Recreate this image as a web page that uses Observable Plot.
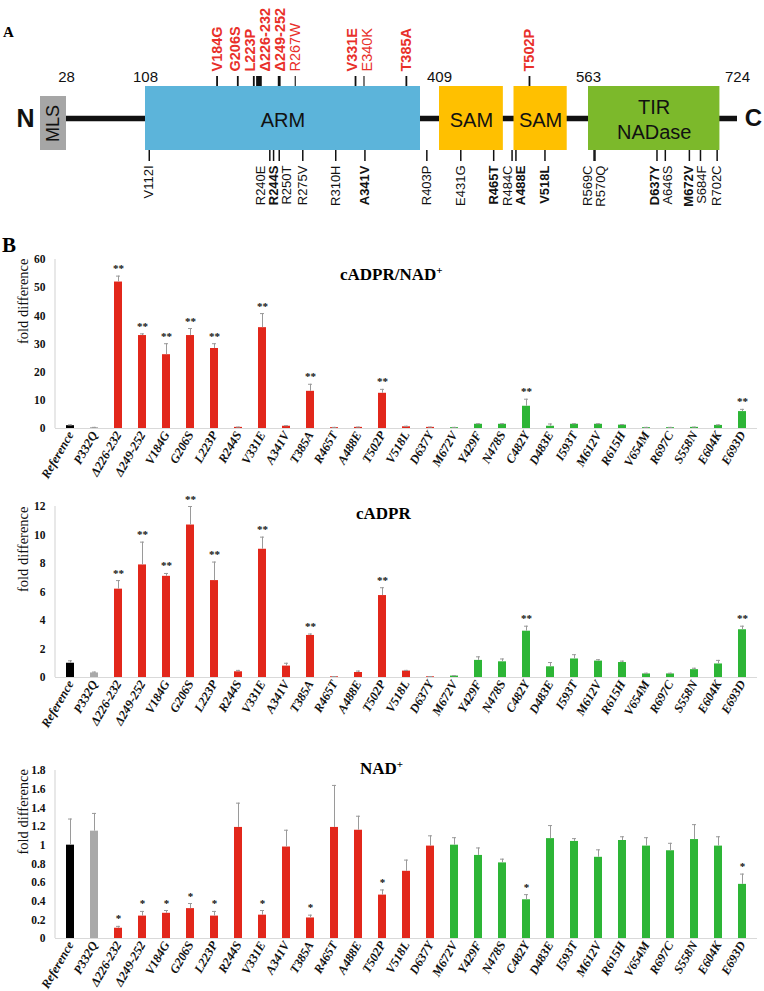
<!DOCTYPE html>
<html><head><meta charset="utf-8">
<script src="https://cdn.jsdelivr.net/npm/d3@7"></script>
<script src="https://cdn.jsdelivr.net/npm/@observablehq/plot@0.6"></script>
<style>
body{margin:0;background:#fff;}
#page{position:relative;width:764px;height:991px;overflow:hidden;background:#fff;}
.slot{position:absolute;left:0;}
.panel{position:absolute;font-family:"Liberation Serif";font-weight:bold;line-height:1;}
.title{position:absolute;font:bold 17px "Liberation Serif";line-height:17px;white-space:nowrap;color:#000;}
.title sup{font-size:11px;vertical-align:6px;line-height:0;}
</style></head><body><div id="page"></div>
<script>
// ---------- Panel A data (residue numbers) ----------
const domainNames  = ["MLS", "ARM", "SAM", "SAM", "TIR\nNADase"];
const domainStart  = [1, 108, 409, 486, 563];
const domainEnd    = [28, 400, 475, 541, 705];
const domainKinds  = ["mls", "arm", "sam", "sam", "tir"];
const backbone     = [28, 724];
const boundaryLabels = [28, 108, 409, 563, 724];

const topNames  = ["V184G","G206S","L223P","Δ226-232","Δ249-252","R267W","V331E","E340K","T385A","T502P"];
const topStart  = [184, 206, 223, 226, 249, 267, 331, 340, 385, 502];
const topEnd    = [184, 206, 223, 232, 252, 267, 331, 340, 385, 502];
const topTested = [true, true, true, true, true, false, true, false, true, true];

const botNames  = ["V112I","R240E","R244S","R250T","R275V","R310H","A341V","R403P","E431G","R465T","R484C","A488E","V518L","R569C","R570Q","D637Y","A646S","M672V","S684F","R702C"];
const botPos    = [112, 240, 244, 250, 275, 310, 341, 403, 431, 465, 484, 488, 518, 569, 570, 637, 646, 672, 684, 702];
const botTested = [false,false,true,false,false,false,true,false,false,true,false,true,true,false,false,true,false,true,false,false];

// ---------- Panel B data ----------
const categories = ["Reference","P332Q","Δ226-232","Δ249-252","V184G","G206S","L223P","R244S","V331E","A341V","T385A","R465T","A488E","T502P","V518L","D637Y","M672V","Y429F","N478S","C482Y","D483E","I593T","M612V","R615H","V654M","R697C","S558N","E604K","E693D"];
const groups = ["reference","control",
  "red","red","red","red","red","red","red","red","red","red","red","red","red","red",
  "green","green","green","green","green","green","green","green","green","green","green","green","green"];

const ratioValues = [1.0, 0.3, 52.0, 33.0, 26.2, 33.0, 28.4, 0.4, 35.8, 0.8, 13.2, 0.3, 0.4, 12.5, 0.6, 0.4, 0.3, 1.5, 1.5, 7.9, 0.8, 1.5, 1.5, 1.2, 0.3, 0.3, 0.4, 1.1, 6.0];
const ratioErrors = [0.3, 0.1, 2.1, 0.6, 3.9, 2.5, 1.7, 0.1, 5.0, 0.2, 2.5, 0.1, 0.1, 1.4, 0.2, 0.1, 0.1, 0.2, 0.2, 2.5, 0.8, 0.2, 0.2, 0.2, 0.1, 0.1, 0.1, 0.2, 0.8];
const ratioSig    = ["","","**","**","**","**","**","","**","","**","","","**","","","","","","**","","","","","","","","","**"];

const cadprValues = [1.0, 0.32, 6.2, 7.9, 7.1, 10.7, 6.8, 0.4, 9.0, 0.8, 2.95, 0.05, 0.35, 5.75, 0.45, 0.05, 0.1, 1.2, 1.1, 3.25, 0.75, 1.3, 1.15, 1.05, 0.25, 0.25, 0.55, 0.95, 3.35];
const cadprErrors = [0.17, 0.06, 0.6, 1.6, 0.2, 1.3, 1.3, 0.1, 0.85, 0.2, 0.1, 0.02, 0.1, 0.55, 0.05, 0.02, 0.03, 0.25, 0.2, 0.35, 0.3, 0.3, 0.1, 0.1, 0.05, 0.05, 0.1, 0.25, 0.25];
const cadprSig    = ["","","**","**","**","**","**","","**","","**","","","**","","","","","","**","","","","","","","","","**"];

const nadValues = [1.0, 1.15, 0.11, 0.24, 0.27, 0.32, 0.24, 1.19, 0.25, 0.98, 0.22, 1.19, 1.16, 0.465, 0.72, 0.99, 1.0, 0.89, 0.81, 0.415, 1.07, 1.04, 0.87, 1.05, 0.99, 0.94, 1.06, 0.99, 0.58];
const nadErrors = [0.28, 0.19, 0.02, 0.05, 0.03, 0.055, 0.05, 0.26, 0.05, 0.18, 0.03, 0.45, 0.15, 0.055, 0.12, 0.11, 0.08, 0.08, 0.04, 0.055, 0.14, 0.03, 0.08, 0.04, 0.09, 0.08, 0.16, 0.10, 0.11];
const nadSig    = ["","","*","*","*","*","*","","*","","*","","","*","","","","","","*","","","","","","","","","*"];

const ratioTicks = [0, 10, 20, 30, 40, 50, 60];
const cadprTicks = [0, 2, 4, 6, 8, 10, 12];
const nadTicks   = [0, 0.2, 0.4, 0.6, 0.8, 1, 1.2, 1.4, 1.6, 1.8];

// ---------- styles ----------
const groupColor = {reference: "#000000", control: "#a9a9a9", red: "#e2271b", green: "#2db536"};
const domainColor = {mls: "#a6a6a6", arm: "#5cb4da", sam: "#ffc000", tir: "#7cb92b"};
const mutRed = "#e8302a";
const page = document.getElementById("page");

function slot(top, node) {
  const d = document.createElement("div");
  d.className = "slot"; d.style.top = top + "px";
  d.appendChild(node); page.appendChild(d);
}
function html(cls, left, top, size, inner) {
  const d = document.createElement("div");
  d.className = cls; d.style.left = left + "px"; d.style.top = top + "px";
  if (size) d.style.fontSize = size + "px";
  d.innerHTML = inner; page.appendChild(d);
}

// ---------- Panel A ----------
const xA = {type: "linear", domain: [1, 28, 108, 400, 409, 563, 724], range: [40, 66, 145, 420, 439, 588, 737]};
const xAscale = Plot.scale({x: xA});
// vertical layout (pixels)
const L = {numBase: 81, topLabel: 71, topTick1: 76, boxTop: 86, mlsTop: 96, backbone: 118, boxBot: 150, botTick2: 161, botLabel: 165};

function spread(px, gap) {
  let cl = px.map(p => ({n: 1, sum: p}));
  let merged = true;
  while (merged) {
    merged = false;
    for (let k = 0; k < cl.length - 1; k++) {
      const a = cl[k], b = cl[k + 1];
      const aEnd = a.sum / a.n + (a.n - 1) * gap / 2;
      const bStart = b.sum / b.n - (b.n - 1) * gap / 2;
      if (bStart - aEnd < gap) { cl.splice(k, 2, {n: a.n + b.n, sum: a.sum + b.sum}); merged = true; break; }
    }
  }
  const out = [];
  for (const c of cl) { const s = c.sum / c.n - (c.n - 1) * gap / 2; for (let j = 0; j < c.n; j++) out.push(s + j * gap); }
  return out;
}

const domains = domainNames.map((name, i) => ({name, start: domainStart[i], end: domainEnd[i], kind: domainKinds[i]}));
const topMuts = topNames.map((name, i) => ({name, start: topStart[i], end: topEnd[i], tested: topTested[i]}));
const topSpread = spread(topMuts.map(d => xAscale.apply((d.start + d.end) / 2)), 15);
topMuts.forEach((d, i) => d.labelX = xAscale.invert(topSpread[i]));
const botMuts = botNames.map((name, i) => ({name, pos: botPos[i], tested: botTested[i]}));
const botSpread = spread(botMuts.map(d => xAscale.apply(d.pos)), 13);
botMuts.forEach((d, i) => d.labelX = xAscale.invert(botSpread[i]));

const sans = "Liberation Sans";
const panelA = Plot.plot({
  width: 764, height: 215, margin: 0,
  x: {...xA, axis: null},
  y: {type: "identity", axis: null},
  style: {fontFamily: sans, background: "transparent"},
  marks: [
    Plot.ruleY([backbone], {x1: d => d[0], x2: d => d[1], y: L.backbone, stroke: "#111", strokeWidth: 5.5}),
    Plot.rect(domains, {x1: "start", x2: "end", y1: d => d.kind === "mls" ? L.mlsTop : L.boxTop, y2: L.boxBot, fill: d => domainColor[d.kind]}),
    Plot.text(domains.filter(d => d.kind !== "mls"), {x: d => (d.start + d.end) / 2, y: L.backbone, text: "name", fontSize: 20, fill: "#111", lineHeight: 1.25}),
    Plot.text(domains.filter(d => d.kind === "mls"), {x: d => (d.start + d.end) / 2, y: (L.mlsTop + L.boxBot) / 2, text: "name", fontSize: 18, rotate: -90, fill: "#111"}),
    Plot.text(boundaryLabels, {x: d => d, y: L.numBase, text: d => String(d), fontSize: 15, lineAnchor: "bottom", fill: "#111"}),
    // top ticks
    Plot.ruleX(topMuts.filter(d => d.start === d.end), {x: "start", y1: L.topTick1, y2: L.boxTop, stroke: "#111", strokeWidth: d => d.tested ? 1.8 : 1.1}),
    Plot.rect(topMuts.filter(d => d.start !== d.end), {x1: "start", x2: "end", y1: L.topTick1, y2: L.boxTop, fill: "#111"}),
    Plot.text(topMuts.filter(d => d.tested), {x: "labelX", y: L.topLabel, text: "name", rotate: -90, textAnchor: "start", lineAnchor: "middle", fontSize: 14.5, fontWeight: "bold", fill: mutRed}),
    Plot.text(topMuts.filter(d => !d.tested), {x: "labelX", y: L.topLabel, text: "name", rotate: -90, textAnchor: "start", lineAnchor: "middle", fontSize: 14.5, fill: mutRed}),
    // bottom ticks
    Plot.ruleX(botMuts, {x: "pos", y1: L.boxBot, y2: L.botTick2, stroke: "#111", strokeWidth: 1.5}),
    Plot.text(botMuts.filter(d => d.tested), {x: "labelX", y: L.botLabel, text: "name", rotate: -90, textAnchor: "end", lineAnchor: "middle", fontSize: 13, fontWeight: "bold", fill: "#111"}),
    Plot.text(botMuts.filter(d => !d.tested), {x: "labelX", y: L.botLabel, text: "name", rotate: -90, textAnchor: "end", lineAnchor: "middle", fontSize: 13, fill: "#111"}),
    // termini
    Plot.text(["N"], {x: 1, y: L.backbone, text: d => d, dx: -15, fontSize: 25, fontWeight: "bold", fill: "#111"}),
    Plot.text(["C"], {x: 724, y: L.backbone, text: d => d, dx: 16, fontSize: 24, fontWeight: "bold", fill: "#111"})
  ]
});
slot(0, panelA);
html("panel", 3, 25, 15, "A");

// ---------- Panel B ----------
function leftLine(index, scales, values, dims) {
  const l = document.createElementNS("http://www.w3.org/2000/svg", "line");
  l.setAttribute("x1", dims.marginLeft); l.setAttribute("x2", dims.marginLeft);
  l.setAttribute("y1", dims.marginTop); l.setAttribute("y2", dims.height - dims.marginBottom);
  l.setAttribute("stroke", "#d9d9d9"); l.setAttribute("stroke-width", 1.2);
  return l;
}
function barChart(values, errors, sigs, ticks, h, mt, mb, fmt) {
  const table = categories.map((name, i) => ({name, value: values[i], err: errors[i], sig: sigs[i], color: groupColor[groups[i]]}));
  return Plot.plot({
    width: 764, height: h, marginLeft: 55, marginRight: 7, marginTop: mt, marginBottom: mb,
    x: {type: "band", domain: categories, paddingInner: 0.66, paddingOuter: 0.35},
    y: {domain: [0, ticks[ticks.length - 1]]},
    style: {fontFamily: "Liberation Serif", fontWeight: "bold", fontSize: "11px", background: "transparent", color: "#111"},
    marks: [
      Plot.ruleY([0], {stroke: "#d9d9d9", strokeWidth: 1.2}),
      leftLine,
      Plot.barY(table, {x: "name", y: "value", fill: "color"}),
      Plot.ruleX(table, {x: "name", y1: "value", y2: d => d.value + d.err, stroke: "#9a9a9a", strokeWidth: 1}),
      Plot.tickY(table, {x: "name", y: d => d.value + d.err, stroke: "#9a9a9a", strokeWidth: 1, insetLeft: 2, insetRight: 2}),
      Plot.text(table.filter(d => d.sig), {x: "name", y: d => d.value + d.err, text: "sig", dy: -4, lineAnchor: "bottom", fontSize: 11, fontWeight: "bold", fill: "#111"}),
      Plot.axisY({ticks, tickSize: 0, tickPadding: 10, tickFormat: fmt, label: null, fontSize: 11.5}),
      Plot.axisX({tickRotate: -60, tickSize: 0, tickPadding: 4, label: null, fontSize: 12.5, fontStyle: "italic"}),
      Plot.text(["fold difference"], {frameAnchor: "left", text: d => d, dx: -32, rotate: -90, fontSize: 14.5, fontWeight: "normal", fill: "#111"})
    ]
  });
}
const fmtInt = d => String(d);
const fmtDec = d => String(+d.toFixed(1));

slot(240, barChart(ratioValues, ratioErrors, ratioSig, ratioTicks, 243, 19, 55, fmtInt));
slot(483, barChart(cadprValues, cadprErrors, cadprSig, cadprTicks, 249, 23, 55, fmtInt));
slot(732, barChart(nadValues, nadErrors, nadSig, nadTicks, 259, 38, 53, fmtDec));

html("panel", 2, 235, 21, "B");
html("title", 340, 266, 0, "cADPR/NAD<sup>+</sup>");
html("title", 356, 505, 0, "cADPR");
html("title", 360, 760, 0, "NAD<sup>+</sup>");
</script></body></html>
